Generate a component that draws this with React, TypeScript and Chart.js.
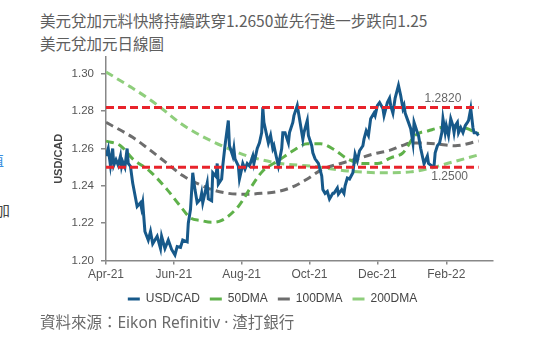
import React, { useEffect, useRef } from "react";
import { Chart, registerables } from "chart.js";

Chart.register(...registerables);

// ---- Data (x = days since 1 Apr 2021) ----
const usdcadDays = [0,2,4,6,7,9,11,13,14,15,17,19,20,22,24,28,31,32,33,35,38,40,42,46,49,50,53,56,59,62,64,67,69,73,74,76,78,80,82,85,86,87,91,92,95,96,99,100,101,104,105,107,110,111,114,115,116,119,120,122,123,125,127,129,132,133,136,138,140,141,142,144,146,148,150,151,153,155,158,159,161,164,165,168,169,172,174,177,178,181,182,185,186,188,191,194,195,197,199,201,204,205,208,209,212,214,215,217,219,222,223,224,226,228,231,232,234,236,238,241,242,244,246,249,250,253,255,256,258,260,263,265,267,268,269,272,274,276,277,278,280,281,283,285,286,289,290,293,295,296,298,300,302,303,305,306,308,310,312,313,314,316,317,319,321,323,325,326,328,330,331,333,335];
const usdcadValues = [1.256,1.260,1.251,1.260,1.251,1.254,1.251,1.256,1.2505,1.253,1.250,1.260,1.252,1.2505,1.2415,1.229,1.231,1.228,1.231,1.2156,1.211,1.2156,1.209,1.213,1.2065,1.213,1.2065,1.211,1.206,1.203,1.2075,1.207,1.211,1.210,1.220,1.2275,1.247,1.238,1.231,1.233,1.236,1.231,1.2415,1.233,1.232,1.247,1.245,1.252,1.241,1.2437,1.2507,1.2615,1.275,1.2615,1.256,1.260,1.2545,1.2507,1.2437,1.249,1.252,1.249,1.252,1.2507,1.256,1.252,1.260,1.263,1.2685,1.282,1.274,1.2685,1.263,1.267,1.260,1.2615,1.256,1.2507,1.260,1.2685,1.2685,1.263,1.2685,1.274,1.2776,1.283,1.276,1.265,1.2685,1.275,1.267,1.2615,1.2577,1.2545,1.252,1.2453,1.238,1.236,1.237,1.233,1.236,1.236,1.2388,1.2356,1.238,1.236,1.240,1.2442,1.2437,1.247,1.252,1.257,1.2534,1.2588,1.2615,1.265,1.2695,1.267,1.276,1.279,1.2776,1.283,1.2846,1.2814,1.2776,1.2846,1.287,1.283,1.279,1.287,1.2938,1.2884,1.2814,1.283,1.279,1.274,1.2706,1.263,1.274,1.2722,1.2685,1.267,1.260,1.2545,1.2518,1.256,1.252,1.2507,1.2507,1.2577,1.2615,1.263,1.2685,1.276,1.2685,1.2722,1.267,1.276,1.2722,1.2685,1.2722,1.274,1.2685,1.2712,1.2685,1.2722,1.274,1.275,1.2814,1.271,1.2685,1.2685,1.267];

const dma50Days = [0,13,24,40,55,67,76,85,95,104,119,130,141,155,170,181,193,205,217,231,244,256,267,278,290,305,321,335];
const dma50Values = [1.264,1.2615,1.2545,1.2475,1.238,1.229,1.2228,1.2215,1.2205,1.2215,1.229,1.239,1.248,1.2535,1.2595,1.2625,1.2625,1.2595,1.2545,1.252,1.252,1.255,1.2577,1.267,1.2695,1.2715,1.2712,1.268];

const dma100Days = [0,24,40,55,69,85,95,110,125,140,155,170,181,195,211,226,240,255,266,275,296,314,335];
const dma100Values = [1.274,1.266,1.259,1.252,1.2455,1.2405,1.238,1.236,1.2355,1.236,1.237,1.240,1.2437,1.249,1.252,1.2545,1.257,1.259,1.2615,1.263,1.2625,1.2615,1.264];

const dma200Days = [0,22,40,49,67,85,110,130,157,186,217,251,274,292,310,335];
const dma200Values = [1.301,1.293,1.286,1.282,1.2735,1.267,1.260,1.2555,1.252,1.2505,1.248,1.247,1.2475,1.2495,1.2525,1.2566];

const upperLevel = 1.282;
const lowerLevel = 1.25;
const upperLabel = "1.2820";
const lowerLabel = "1.2500";
const levelDays = [0, 335];

const monthTickDays = [0, 61, 122, 183, 244, 306];
const monthLabels = ["Apr-21", "Jun-21", "Aug-21", "Oct-21", "Dec-21", "Feb-22"];
const yTicks = [1.2, 1.22, 1.24, 1.26, 1.28, 1.3];

const seriesNames = ["USD/CAD", "50DMA", "100DMA", "200DMA"];

const titleLine1 = "美元兌加元料快將持續跌穿1.2650並先行進一步跌向1.25";
const titleLine2 = "美元兌加元日線圖";
const sourceText = "資料來源：Eikon Refinitiv · 渣打銀行";

const COLORS = {
  usd: "#17598a",
  d50: "#5fb14a",
  d100: "#6d6d6d",
  d200: "#8fce7c",
  red: "#e8232b",
};

const pts = (xs: number[], ys: number[]) => xs.map((x, i) => ({ x, y: ys[i] }));

const FONT = '"Liberation Sans", Arial, sans-serif';

const levelLabelPlugin = {
  id: "levelLabels",
  afterDatasetsDraw(chart: any) {
    const { ctx, scales } = chart;
    const x = scales.x;
    const y = scales.y;
    ctx.save();
    ctx.font = `12px ${FONT}`;
    ctx.fillStyle = "#666";
    ctx.textAlign = "center";
    ctx.textBaseline = "middle";
    ctx.fillText(upperLabel, x.getPixelForValue(303), y.getPixelForValue(upperLevel) - 9);
    ctx.fillText(lowerLabel, x.getPixelForValue(309), y.getPixelForValue(lowerLevel) + 9);
    ctx.restore();
  },
};

export default function App() {
  const ref = useRef<HTMLCanvasElement>(null);
  useEffect(() => {
    if (!ref.current) return;
    const dashed = (color: string, dash: number[]) => ({
      borderColor: color,
      backgroundColor: color,
      borderWidth: 3,
      borderDash: dash,
      pointRadius: 0,
      fill: false,
      cubicInterpolationMode: "monotone" as const,
    });
    const chart = new Chart(ref.current, {
      type: "line",
      data: {
        datasets: [
          {
            label: seriesNames[0],
            data: pts(usdcadDays, usdcadValues),
            borderColor: COLORS.usd,
            backgroundColor: COLORS.usd,
            borderWidth: 3,
            pointRadius: 0,
            tension: 0,
            order: 1,
          },
          { label: seriesNames[1], data: pts(dma50Days, dma50Values), ...dashed(COLORS.d50, [8, 5]), order: 2 },
          { label: seriesNames[2], data: pts(dma100Days, dma100Values), ...dashed(COLORS.d100, [8, 5]), order: 2 },
          { label: seriesNames[3], data: pts(dma200Days, dma200Values), ...dashed(COLORS.d200, [8, 5]), order: 2 },
          {
            label: "upper",
            data: pts(levelDays, [upperLevel, upperLevel]),
            borderColor: COLORS.red,
            borderWidth: 3,
            borderDash: [8, 4],
            pointRadius: 0,
            order: 0,
          },
          {
            label: "lower",
            data: pts(levelDays, [lowerLevel, lowerLevel]),
            borderColor: COLORS.red,
            borderWidth: 3,
            borderDash: [8, 4],
            pointRadius: 0,
            order: 0,
          },
        ],
      },
      options: {
        animation: false,
        responsive: false,
        maintainAspectRatio: false,
        layout: { padding: { left: 52, right: 44, top: 57, bottom: 44 } },
        plugins: {
          tooltip: { enabled: false },
          legend: {
            position: "bottom",
            labels: {
              font: { family: FONT, size: 12 },
              color: "#444",
              boxWidth: 12,
              boxHeight: 3,
              padding: 10,
              filter: (item: any) => item.datasetIndex < 4,
              generateLabels: (c: any) =>
                Chart.defaults.plugins.legend.labels.generateLabels(c).map((l: any) => ({
                  ...l,
                  lineDash: [],
                  lineWidth: 0,
                  fillStyle: l.strokeStyle,
                })),
            },
          },
        },
        scales: {
          x: {
            type: "linear",
            min: 0,
            max: 348,
            afterBuildTicks: (s: any) => {
              s.ticks = monthTickDays.map((v) => ({ value: v }));
            },
            afterFit: (s: any) => {
              s.height = s.height - 2;
            },
            ticks: {
              font: { family: FONT, size: 12 },
              color: "#555",
              padding: 3,
              maxRotation: 0,
              autoSkip: false,
              callback: (v: any) => {
                const i = monthTickDays.indexOf(Number(v));
                return i >= 0 ? monthLabels[i] : "";
              },
            },
            grid: { display: true, drawOnChartArea: false, drawTicks: true, tickLength: 4, color: "#888", lineWidth: 1.5 },
            border: { display: true, color: "#888", width: 1.5 },
          },
          y: {
            type: "linear",
            min: 1.2,
            max: 1.309,
            afterBuildTicks: (s: any) => {
              s.ticks = yTicks.map((v) => ({ value: v }));
            },
            afterFit: (s: any) => {
              s.width = 54;
            },
            ticks: {
              font: { family: FONT, size: 11.5 },
              color: "#555",
              padding: 7,
              callback: (v: any) => Number(v).toFixed(2),
            },
            title: {
              display: true,
              text: "USD/CAD",
              font: { family: FONT, size: 11, weight: "bold" },
              color: "#444",
              padding: 0,
            },
            grid: { display: true, drawOnChartArea: false, drawTicks: true, tickLength: 5, color: "#888", lineWidth: 1.5 },
            border: { display: true, color: "#888", width: 1.5 },
          },
        },
      },
      plugins: [levelLabelPlugin],
    } as any);
    return () => chart.destroy();
  }, []);

  const cjk = '"Noto Sans CJK TC", "Noto Sans CJK SC", sans-serif';
  const src = '"Noto Sans", "Noto Sans CJK TC", sans-serif';
  return (
    <div style={{ position: "absolute", left: 0, top: 0, width: 537, height: 359, overflow: "hidden", background: "#fff" }}>
      <div style={{ position: "absolute", left: 40, top: 10, fontFamily: cjk, fontSize: 15.5, lineHeight: "20px", color: "#5e5e5e", whiteSpace: "nowrap" }}>
        {titleLine1}
      </div>
      <div style={{ position: "absolute", left: 40, top: 33, fontFamily: cjk, fontSize: 15.5, lineHeight: "20px", color: "#5e5e5e", whiteSpace: "nowrap" }}>
        {titleLine2}
      </div>
      <div style={{ position: "absolute", left: -11, top: 150, fontFamily: cjk, fontSize: 15, lineHeight: "20px", color: "#3b8fe0" }}>值</div>
      <div style={{ position: "absolute", left: -5, top: 200, fontFamily: cjk, fontSize: 15, lineHeight: "20px", color: "#444" }}>加</div>
      <canvas ref={ref} width={537} height={359} style={{ position: "absolute", left: 0, top: 0, width: 537, height: 359 }} />
      <div style={{ position: "absolute", left: 40, top: 311, fontFamily: src, fontSize: 15.5, lineHeight: "22px", color: "#6a6a6a", whiteSpace: "nowrap" }}>
        {sourceText}
      </div>
    </div>
  );
}
